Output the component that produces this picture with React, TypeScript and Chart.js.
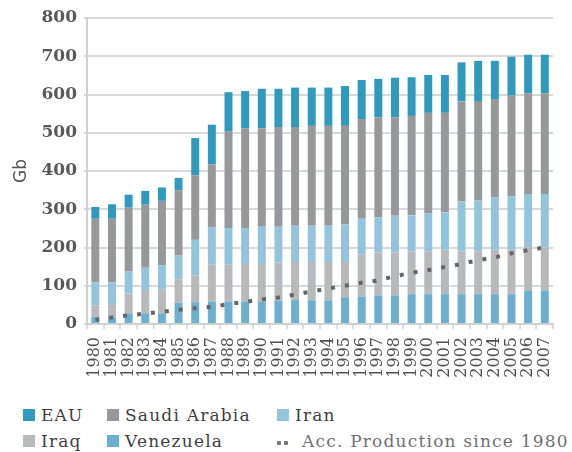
import React, { useEffect, useRef } from "react";
import { Chart, registerables } from "chart.js";

Chart.register(...registerables);

const years = [
  "1980", "1981", "1982", "1983", "1984", "1985", "1986", "1987", "1988", "1989",
  "1990", "1991", "1992", "1993", "1994", "1995", "1996", "1997", "1998", "1999",
  "2000", "2001", "2002", "2003", "2004", "2005", "2006", "2007",
];

const venezuela = [18, 18, 28, 28, 28, 56, 57, 59, 59, 59, 59, 61, 63, 62, 62, 70, 72, 75, 75, 78, 78, 78, 78, 78, 78, 78, 88, 88];
const iraq = [31, 34, 52, 61, 63, 61, 70, 96, 96, 98, 98, 100, 99, 100, 100, 92, 109, 112, 112, 112, 112, 116, 112, 112, 116, 116, 112, 112];
const iran = [60, 57, 57, 58, 62, 62, 93, 97, 96, 94, 97, 93, 95, 95, 95, 98, 94, 92, 96, 94, 99, 98, 130, 133, 137, 140, 140, 140];
const saudiArabia = [166, 166, 167, 165, 169, 171, 169, 165, 252, 260, 258, 261, 258, 261, 261, 258, 261, 261, 257, 260, 263, 260, 262, 260, 257, 263, 263, 263];
const eau = [31, 38, 34, 36, 35, 32, 97, 104, 103, 98, 103, 100, 103, 100, 100, 104, 102, 101, 104, 101, 99, 99, 102, 105, 100, 102, 101, 101];
const accProduction = [11, 17, 23, 27, 32, 37, 41, 45, 52, 58, 64, 69, 77, 85, 93, 100, 108, 114, 125, 134, 141, 149, 157, 167, 174, 185, 193, 200];

const yTicks = [0, 100, 200, 300, 400, 500, 600, 700, 800];

const COLORS = {
  eau: "#2f9abd",
  saudi: "#97989c",
  iran: "#94c4db",
  iraq: "#b8b9bd",
  venezuela: "#6cafce",
  acc: "#666666",
};

const legendFont = "'DejaVu Serif', serif";

export default function App() {
  const ref = useRef<HTMLCanvasElement>(null);

  useEffect(() => {
    document.body.style.margin = "0";
    const canvas = ref.current;
    if (!canvas) return;
    const bar = (label: string, data: number[], color: string) => ({
      type: "bar" as const,
      label,
      data,
      backgroundColor: color,
      borderWidth: 0,
      barPercentage: 0.48,
      categoryPercentage: 1,
      stack: "reserves",
      order: 1,
    });
    const chart = new Chart(canvas, {
      type: "bar",
      data: {
        labels: years,
        datasets: [
          {
            type: "line" as const,
            label: "Acc. Production since 1980",
            data: accProduction,
            borderColor: COLORS.acc,
            borderWidth: 4,
            borderDash: [4, 10],
            pointRadius: 0,
            fill: false,
            tension: 0,
            stack: "acc",
            order: 0,
          } as any,
          bar("Venezuela", venezuela, COLORS.venezuela),
          bar("Iraq", iraq, COLORS.iraq),
          bar("Iran", iran, COLORS.iran),
          bar("Saudi Arabia", saudiArabia, COLORS.saudi),
          bar("EAU", eau, COLORS.eau),
        ],
      },
      options: {
        responsive: false,
        animation: false,
        devicePixelRatio: 1,
        layout: { padding: { top: 18, right: 1, left: 0, bottom: 0 } },
        plugins: {
          legend: { display: false },
          tooltip: { enabled: false },
        },
        scales: {
          x: {
            stacked: true,
            offset: true,
            grid: {
              offset: true,
              color: (ctx: any) => (ctx.index === years.length ? "#d9d9d9" : "rgba(0,0,0,0)"),
              lineWidth: 2,
              tickLength: 5,
              tickColor: "#d0d0d0",
              tickWidth: 1.5,
            },
            border: { display: true, color: "#d0d0d0", width: 2 },
            ticks: {
              autoSkip: false,
              minRotation: 90,
              maxRotation: 90,
              padding: 8,
              color: "#505050",
              font: { family: "'DejaVu Serif', serif", size: 16 },
            },
            afterFit: (scale: any) => {
              scale.height = 68;
            },
          },
          y: {
            stacked: true,
            min: 0,
            max: 800,
            afterBuildTicks: (scale: any) => {
              scale.ticks = yTicks.map((v) => ({ value: v }));
            },
            grid: {
              color: "#d9d9d9",
              lineWidth: 2,
              tickLength: 3,
            },
            border: { display: true, color: "#d0d0d0", width: 2 },
            ticks: {
              padding: 7,
              color: "#595959",
              font: { family: "'DejaVu Serif', serif", size: 17, weight: "bold" },
            },
            title: {
              display: true,
              text: "Gb",
              color: "#555555",
              padding: { top: 11, bottom: 0 },
              font: { family: "'DejaVu Sans', sans-serif", size: 17 },
            },
            afterFit: (scale: any) => {
              scale.width = 87;
            },
          },
        },
      },
    });
    return () => chart.destroy();
  }, []);

  const textStyle: React.CSSProperties = {
    fontFamily: legendFont,
    fontSize: 17,
    letterSpacing: "1.2px",
    lineHeight: "20px",
    color: "#3f3f3f",
    whiteSpace: "nowrap",
  };

  const item = (left: number, top: number, color: string, label: string) => (
    <div
      key={label}
      style={{ position: "absolute", left, top, display: "flex", alignItems: "center", height: 20 }}
    >
      <span style={{ display: "inline-block", width: 12, height: 12, background: color, marginRight: 6 }} />
      <span style={textStyle}>{label}</span>
    </div>
  );

  return (
    <div style={{ position: "relative", width: 572, height: 452, background: "#ffffff", overflow: "hidden" }}>
      <canvas ref={ref} width={572} height={392} style={{ position: "absolute", left: 0, top: 0 }} />
      {item(23, 405, COLORS.eau, "EAU")}
      {item(107, 405, COLORS.saudi, "Saudi Arabia")}
      {item(277, 405, COLORS.iran, "Iran")}
      {item(23, 431, COLORS.iraq, "Iraq")}
      {item(107, 431, COLORS.venezuela, "Venezuela")}
      <div style={{ position: "absolute", left: 277, top: 431, display: "flex", alignItems: "center", height: 20 }}>
        <span style={{ display: "inline-block", width: 4, height: 4, background: "#777777", borderRadius: 1, marginTop: 3 }} />
        <span style={{ display: "inline-block", width: 4, height: 4, background: "#777777", borderRadius: 1, marginLeft: 3, marginTop: 3, marginRight: 14 }} />
        <span style={{ ...textStyle, color: "#707070" }}>Acc. Production since 1980</span>
      </div>
    </div>
  );
}
